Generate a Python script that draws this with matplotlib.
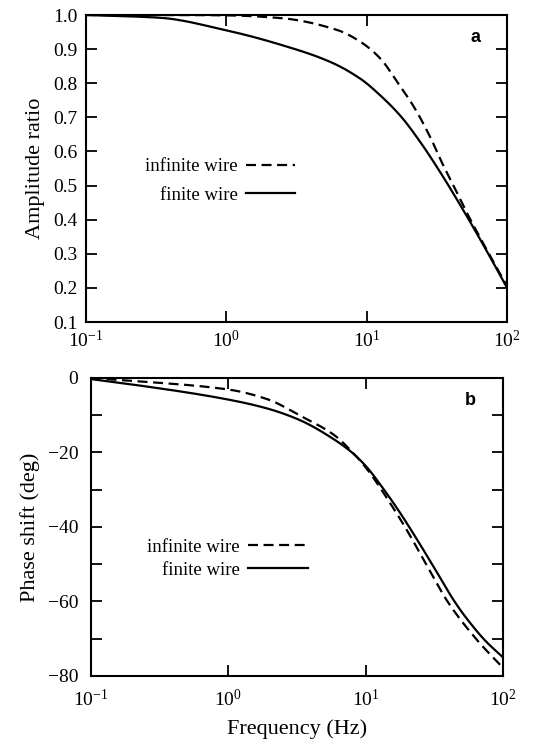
import numpy as np
import matplotlib.pyplot as plt
from matplotlib.ticker import LogLocator, LogFormatterMathtext, MultipleLocator, FuncFormatter, NullLocator

plt.rcParams['font.family'] = ['Liberation Serif', 'DejaVu Serif']
plt.rcParams['mathtext.fontset'] = 'custom'
plt.rcParams['mathtext.rm'] = 'Liberation Serif'
plt.rcParams['mathtext.it'] = 'Liberation Serif:italic'

# Amplitude ratio vs frequency (panel a), frequencies given as log10(Hz)
amp_logf_finite = [-1.0, -0.476, 0.0, 0.386, 0.743, 0.957, 1.1, 1.243, 1.386, 1.53, 1.624, 1.719, 1.862, 2.0]
amp_finite = [1.0, 0.992, 0.955, 0.913, 0.862, 0.8125, 0.763, 0.703, 0.625, 0.535, 0.472, 0.406, 0.303, 0.20]
amp_logf_infinite = [-1.0, -0.3, 0.0, 0.386, 0.79, 0.957, 1.1, 1.22, 1.34, 1.457, 1.53, 1.624, 1.72, 1.86, 2.0]
amp_infinite = [1.0, 1.0, 0.999, 0.991, 0.956, 0.921, 0.871, 0.802, 0.728, 0.638, 0.572, 0.495, 0.415, 0.308, 0.205]

# Phase shift vs frequency (panel b), degrees
ph_logf_finite = [-1.0, -0.69, 0.0, 0.284, 0.52, 0.762, 0.9, 1.005, 1.12, 1.247, 1.368, 1.5, 1.647, 1.732, 1.873, 2.0]
ph_finite = [-0.3, -1.8, -5.8, -8.2, -11.3, -16.3, -20.0, -23.8, -29.3, -36.0, -43.0, -51.0, -60.0, -64.4, -70.6, -75.0]
ph_logf_infinite = [-1.0, -0.69, 0.0, 0.284, 0.527, 0.77, 0.9, 1.0, 1.199, 1.296, 1.49, 1.596, 1.817, 2.0]
ph_infinite = [0.0, -0.8, -3.1, -5.7, -10.2, -15.3, -19.8, -24.0, -34.8, -40.6, -53.3, -60.0, -70.6, -77.8]


def pchip(lx, fy, n=400):
    # monotone cubic Hermite curve in log-frequency
    x = np.asarray(lx, float)
    y = np.asarray(fy, float)
    h = np.diff(x)
    d = np.diff(y) / h
    m = np.zeros_like(y)
    for i in range(1, len(y) - 1):
        if d[i - 1] * d[i] > 0:
            w1 = 2 * h[i] + h[i - 1]
            w2 = h[i] + 2 * h[i - 1]
            m[i] = (w1 + w2) / (w1 / d[i - 1] + w2 / d[i])
    m[0] = d[0]
    m[-1] = d[-1]
    grid = np.linspace(x[0], x[-1], n)
    k = np.clip(np.searchsorted(x, grid) - 1, 0, len(h) - 1)
    t = (grid - x[k]) / h[k]
    h00 = 2 * t**3 - 3 * t**2 + 1
    h10 = t**3 - 2 * t**2 + t
    h01 = -2 * t**3 + 3 * t**2
    h11 = t**3 - t**2
    yy = h00 * y[k] + h10 * h[k] * m[k] + h01 * y[k + 1] + h11 * h[k] * m[k + 1]
    return 10 ** grid, yy


def style_axes(ax):
    ax.set_xscale('log')
    ax.set_xlim(0.1, 100)
    ax.xaxis.set_major_locator(LogLocator(base=10, numticks=10))
    ax.xaxis.set_minor_locator(NullLocator())
    ax.xaxis.set_major_formatter(LogFormatterMathtext())
    ax.tick_params(which='both', direction='in', top=True, right=True,
                   length=8, width=1.3)
    ax.tick_params(axis='x', labelsize=14, pad=6)
    ax.tick_params(axis='y', labelsize=14)
    for s in ax.spines.values():
        s.set_linewidth(1.5)


fig = plt.figure(figsize=(5.33, 7.43), dpi=100)

ax1 = fig.add_axes([0.1614, 0.5666, 0.790, 0.4132])
x, y = pchip(amp_logf_infinite, amp_infinite)
ax1.plot(x, y, color='black', lw=1.6, dashes=(4.5, 2.5), label='infinite wire')
x, y = pchip(amp_logf_finite, amp_finite)
ax1.plot(x, y, color='black', lw=1.6, label='finite wire')
style_axes(ax1)
ax1.set_ylim(0.1, 1.0)
ax1.yaxis.set_major_locator(MultipleLocator(0.1))
ax1.yaxis.set_major_formatter(FuncFormatter(lambda v, p: f'{v:.1f}'))
ax1.tick_params(axis='y', pad=6)
ax1.set_ylabel('Amplitude ratio', fontsize=16, labelpad=6)
ax1.text(0.924, 0.928, 'a', transform=ax1.transAxes, fontsize=13,
         fontweight='bold', family='Liberation Sans', ha='center', va='center')
ax1.legend(loc='center right', bbox_to_anchor=(0.496, 0.459), frameon=False,
           markerfirst=False, handlelength=2.6, handletextpad=0.45,
           labelspacing=0.6, borderpad=0, borderaxespad=0, fontsize=13.5)

ax2 = fig.add_axes([0.1707, 0.0902, 0.773, 0.4011])
x, y = pchip(ph_logf_infinite, ph_infinite)
ax2.plot(x, y, color='black', lw=1.6, dashes=(4.5, 2.5), label='infinite wire')
x, y = pchip(ph_logf_finite, ph_finite)
ax2.plot(x, y, color='black', lw=1.6, label='finite wire')
style_axes(ax2)
ax2.set_ylim(-80, 0)
ax2.yaxis.set_major_locator(MultipleLocator(10))
ax2.yaxis.set_major_formatter(FuncFormatter(
    lambda v, p: f'{int(round(v))}'.replace('-', '\u2212') if round(v) % 20 == 0 else ''))
ax2.tick_params(axis='y', pad=9)
ax2.tick_params(axis='x', pad=9)
ax2.set_ylabel('Phase shift (deg)', fontsize=16, labelpad=6)
ax2.set_xlabel('Frequency (Hz)', fontsize=16, labelpad=7)
ax2.text(0.92, 0.926, 'b', transform=ax2.transAxes, fontsize=13,
         fontweight='bold', family='Liberation Sans', ha='center', va='center')
ax2.legend(loc='center right', bbox_to_anchor=(0.527, 0.393), frameon=False,
           markerfirst=False, handlelength=3.2, handletextpad=0.45,
           labelspacing=0.3, borderpad=0, borderaxespad=0, fontsize=13.5)

fig.savefig('out.png', dpi=100)
